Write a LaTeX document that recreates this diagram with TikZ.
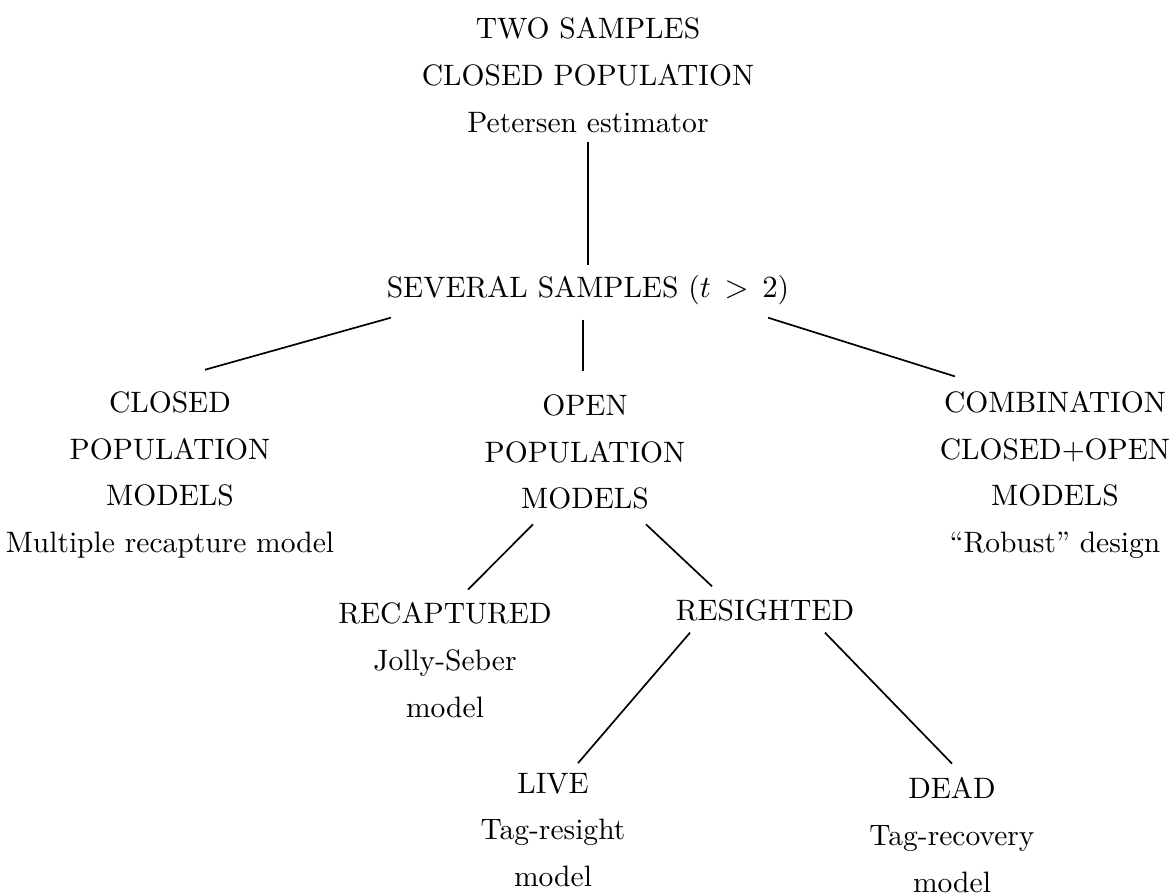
\documentclass[tikz,border=0pt]{standalone}
\usepackage{amsmath,amssymb,amsfonts}
\usepackage{tikz}

\tikzset{
  label/.style={align=center,font=\fontsize{10.5}{16.6}\selectfont},
  branch/.style={line width=0.6pt}
}

\begin{document}
\begin{tikzpicture}[x=0.0125cm,y=-0.0125cm]
      \useasboundingbox (0,0) rectangle (1176,894);
      \node[label] (two) at (588,75) {TWO SAMPLES\\CLOSED POPULATION\\Petersen estimator};
      \node[label] (several) at (588,290) {SEVERAL SAMPLES ($t \mathrel{\,>\,} 2$)};
      \node[label] (closed) at (170,475) {CLOSED\\POPULATION\\MODELS\\Multiple recapture model};
      \node[label] (open) at (585,452) {OPEN\\POPULATION\\MODELS};
      \node[label] (combo) at (1055,475) {COMBINATION\\CLOSED+OPEN\\MODELS\\``Robust'' design};
      \node[label] (recap) at (445,660) {RECAPTURED\\Jolly-Seber\\model};
      \node[label] (resight) at (765,610) {RESIGHTED};
      \node[label] (live) at (553,830) {LIVE\\Tag-resight\\model};
      \node[label] (dead) at (952,835) {DEAD\\Tag-recovery\\model};
      \draw[branch] (two.south) -- (several.north);
      \draw[branch] ([shift={(14,3)}]several.south west) -- ([shift={(35,-12)}]closed.north);
      \draw[branch] ([shift={(-5,5)}]several.south) -- ([shift={(-2,-14)}]open.north);
      \draw[branch] ([shift={(-31,3)}]several.south east) -- ([shift={(-100,-5)}]combo.north);
      \draw[branch] ([shift={(-52,5)}]open.south) -- ([shift={(23,-3)}]recap.north);
      \draw[branch] ([shift={(61,5)}]open.south) -- ([shift={(-53,-3)}]resight.north);
      \draw[branch] ([shift={(-75,2)}]resight.south) -- ([shift={(25,0)}]live.north);
      \draw[branch] ([shift={(60,2)}]resight.south) -- ([shift={(0,-4)}]dead.north);
    \end{tikzpicture}
\end{document}
